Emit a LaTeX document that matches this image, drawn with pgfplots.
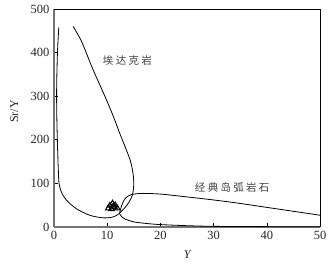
\documentclass[border=0pt]{standalone}
\usepackage{pgfplots}
\pgfplotsset{compat=1.18}
\usepackage{fontspec}
\setmainfont{Liberation Serif}
\newfontfamily\cjk[LetterSpace=22]{Noto Sans CJK SC}
\begin{document}
\begin{tikzpicture}
\begin{axis}[
  scale only axis, width=266pt, height=218pt,
  xmin=0, xmax=50, ymin=0, ymax=500,
  axis lines=left, axis line style={black!55, line width=1.3pt, -},
  xtick={0,10,20,30,40,50}, ytick={0,100,200,300,400,500},
  tick align=inside, major tick length=4pt,
  tick style={black, line width=0.6pt},
  /pgf/number format/assume math mode=true,
  tick label style={font=\fontsize{12.5}{13}\selectfont, text=black!85},
  yticklabel style={xshift=-1pt},
  xticklabel style={yshift=-1pt},
  xlabel={\textit{Y}}, ylabel={Sr/Y},
  label style={font=\fontsize{12}{13}\selectfont, text=black!85},
  xlabel style={at={(axis description cs:0.503,-0.128)}, anchor=center},
  ylabel style={at={(axis description cs:-0.150,0.53)}, anchor=center},
  clip=false,
]
\coordinate (sw) at (rel axis cs:0,0);
\coordinate (ne) at (rel axis cs:1,1);
\draw[black, line width=0.6pt] (rel axis cs:0,1) -- (rel axis cs:1,1) -- (rel axis cs:1,0);
% curve A: left and bottom boundary of adakite field
\addplot[black, line width=0.8pt, smooth, tension=0.5] coordinates {
 (0.9,458) (0.65,400) (0.5,320) (0.52,260) (0.65,190) (0.8,135) (0.95,100)
 (1.4,80) (2.3,62) (4.2,42) (6.7,27) (9.2,21) (11.1,23) (12.3,31)};
% curve B: right boundary of adakite field
\addplot[black, line width=0.8pt, smooth, tension=0.5] coordinates {
 (3.6,460) (5.2,425) (7.3,362) (9.85,292) (11.4,246) (12.35,215) (13.5,180)
 (14.4,150) (14.85,123) (15,100) (14.95,88) (14.7,72) (14.1,57) (13.3,44) (12.6,35) (12.3,31)};
% lower boundary of island arc field
\addplot[black, line width=0.8pt, smooth, tension=0.5] coordinates {
 (12.3,31) (12.7,24) (13.4,18) (15.1,11.5) (17.6,7.8) (20,5.5) (25,3) (30,1.5) (40,0.8) (50,0.5)};
% upper boundary of island arc field
\addplot[black, line width=0.8pt, smooth, tension=0.5] coordinates {
 (12.3,31) (12.5,40) (12.9,55) (13.5,67) (14.5,74) (16.4,77) (20,75.5) (25,69)
 (30,62) (35,54) (40,45) (45,36) (50,27)};
% samples
\addplot[only marks, mark=triangle, mark size=3.2pt, black, line width=1pt] coordinates {
 (10.5,49) (11,54) (11.4,45) (10.2,43) (11.9,43) (10.8,41) (11.5,50) (11.1,47)};
\node[font=\cjk\fontsize{10.5}{12}\selectfont, text=black!75] at (axis cs:13.8,381) {埃达克岩};
\node[font=\cjk\fontsize{10.5}{12}\selectfont, text=black!75] at (axis cs:33.5,91) {经典岛弧岩石};
\end{axis}
\pgfresetboundingbox
\path ([xshift=-54pt,yshift=-39pt]sw) rectangle ([xshift=15pt,yshift=9pt]ne);
\end{tikzpicture}
\end{document}
